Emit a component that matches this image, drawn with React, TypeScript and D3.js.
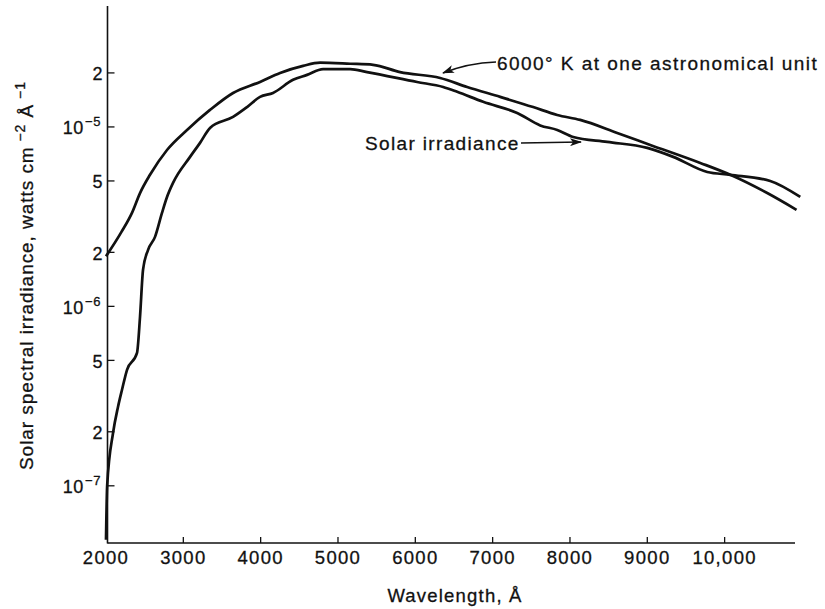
import { useEffect, useRef } from 'react';
import * as d3 from 'd3';

// 6000 K black body at one astronomical unit
const bbWavelength = [2000, 2200, 2336, 2440, 2569, 2789, 3048, 3345, 3643, 3992, 4251, 4549, 4768, 5157, 5454, 5803, 6321, 6670, 7097, 7524, 7835, 8132, 8611, 9038, 9685, 10073, 10551, 10930];
const bbIrradiance = [1.9e-6, 2.6e-6, 3.32e-6, 4.28e-6, 5.41e-6, 7.44e-6, 9.62e-6, 1.244e-5, 1.546e-5, 1.782e-5, 2.0e-5, 2.19e-5, 2.28e-5, 2.25e-5, 2.22e-5, 2.02e-5, 1.874e-5, 1.67e-5, 1.47e-5, 1.29e-5, 1.166e-5, 1.094e-5, 9.26e-6, 7.94e-6, 6.3e-6, 5.41e-6, 4.28e-6, 3.45e-6];

// measured solar irradiance
const solarWavelength = [2000, 2015, 2091, 2155, 2207, 2272, 2401, 2440, 2479, 2543, 2634, 2724, 2789, 2867, 3087, 3216, 3345, 3643, 3824, 3992, 4160, 4419, 4600, 4807, 5157, 5376, 6023, 6360, 6541, 6877, 7317, 7615, 7835, 8042, 8481, 8999, 9335, 9775, 10073, 10590, 10978];
const solarIrradiance = [5e-8, 1e-7, 1.97e-7, 2.75e-7, 3.43e-7, 4.43e-7, 5.51e-7, 8.75e-7, 1.6e-6, 2.06e-6, 2.44e-6, 3.32e-6, 4.07e-6, 4.88e-6, 6.81e-6, 8.15e-6, 9.87e-6, 1.137e-5, 1.29e-5, 1.47e-5, 1.546e-5, 1.83e-5, 1.95e-5, 2.1e-5, 2.1e-5, 2.02e-5, 1.78e-5, 1.67e-5, 1.57e-5, 1.38e-5, 1.196e-5, 1.02e-5, 9.62e-6, 8.79e-6, 8.25e-6, 7.64e-6, 6.81e-6, 5.61e-6, 5.41e-6, 5.0e-6, 4.07e-6];

const xTicks = [2000, 3000, 4000, 5000, 6000, 7000, 8000, 9000, 10000];
const xTickLabels = ['2000', '3000', '4000', '5000', '6000', '7000', '8000', '9000', '10,000'];
const yTicks = [2e-5, 1e-5, 5e-6, 2e-6, 1e-6, 5e-7, 2e-7, 1e-7];
const yTickMant = ['2', '10', '5', '2', '10', '5', '2', '10'];
const yTickExp = ['', '−5', '', '', '−6', '', '', '−7'];

const FONT = '"Liberation Sans", Arial, sans-serif';
const INK = '#111';

const App = () => {
  const svgRef = useRef<SVGSVGElement>(null);

  useEffect(() => {
    const width = 825;
    const height = 609;
    const svg = d3.select(svgRef.current).attr('width', width).attr('height', height);
    svg.selectAll('*').remove();

    const x = d3.scaleLinear().domain([2000, 10910]).range([106, 795]);
    const y = d3.scaleLog().domain([4.8e-8, 4.72e-5]).range([543, 6]);
    const axisX = 107.5;

    const label = (sel: any, size: number, spacing: number) =>
      sel
        .attr('font-family', FONT)
        .attr('font-size', size)
        .attr('letter-spacing', spacing)
        .attr('fill', INK)
        .attr('stroke', INK)
        .attr('stroke-width', 0.3);

    svg
      .append('defs')
      .append('marker')
      .attr('id', 'head')
      .attr('viewBox', '0 0 12 8')
      .attr('refX', 11)
      .attr('refY', 4)
      .attr('markerWidth', 12)
      .attr('markerHeight', 8)
      .attr('markerUnits', 'userSpaceOnUse')
      .attr('orient', 'auto')
      .append('path')
      .attr('d', 'M0,0 L12,4 L0,8 L3,4 Z')
      .attr('fill', INK);

    // axes
    svg.append('line')
      .attr('x1', axisX).attr('x2', axisX)
      .attr('y1', 6).attr('y2', 543.5)
      .attr('stroke', INK).attr('stroke-width', 1.6);
    svg.append('line')
      .attr('x1', axisX).attr('x2', 795)
      .attr('y1', 543).attr('y2', 543)
      .attr('stroke', INK).attr('stroke-width', 1.4);

    const xg = svg.append('g');
    xTicks.forEach((t, i) => {
      if (i > 0) {
        xg.append('line')
          .attr('x1', x(t)).attr('x2', x(t))
          .attr('y1', 543).attr('y2', 537)
          .attr('stroke', INK).attr('stroke-width', 1.3);
      }
      label(xg.append('text'), 18.5, 1.3)
        .attr('x', x(t)).attr('y', 563.5)
        .attr('text-anchor', 'middle')
        .text(xTickLabels[i]);
    });

    const yg = svg.append('g');
    yTicks.forEach((t, i) => {
      yg.append('line')
        .attr('x1', axisX).attr('x2', axisX + 7)
        .attr('y1', y(t)).attr('y2', y(t))
        .attr('stroke', INK).attr('stroke-width', 1.3);
      const txt = label(yg.append('text'), 18, 0.6)
        .attr('x', yTickExp[i] ? 101 : 103)
        .attr('y', y(t) + 7.5)
        .attr('text-anchor', 'end');
      txt.append('tspan').text(yTickMant[i]);
      if (yTickExp[i]) {
        txt.append('tspan').attr('dy', -8).attr('font-size', 13).attr('dx', 1).text(yTickExp[i]);
      }
    });

    // curves
    const line = d3
      .line<[number, number]>()
      .x((d) => x(d[0]))
      .y((d) => y(d[1]))
      .curve(d3.curveMonotoneX);

    const bb = bbWavelength.map((w, i) => [w, bbIrradiance[i]] as [number, number]);
    const solar = solarWavelength.map((w, i) => [w, solarIrradiance[i]] as [number, number]);

    svg.append('path').attr('d', line(bb)).attr('fill', 'none')
      .attr('stroke', INK).attr('stroke-width', 2.7).attr('stroke-linejoin', 'round');
    svg.append('path').attr('d', line(solar)).attr('fill', 'none')
      .attr('stroke', INK).attr('stroke-width', 2.7).attr('stroke-linejoin', 'round');

    // annotations
    label(svg.append('text'), 19, 1.45)
      .attr('x', 497).attr('y', 70)
      .text('6000° K at one astronomical unit');
    svg.append('path')
      .attr('d', 'M496,62 Q468,63 443,73')
      .attr('fill', 'none').attr('stroke', INK).attr('stroke-width', 1.4)
      .attr('marker-end', 'url(#head)');

    label(svg.append('text'), 19, 1.35)
      .attr('x', 365).attr('y', 150)
      .text('Solar irradiance');
    svg.append('path')
      .attr('d', 'M521,143 L581,142')
      .attr('fill', 'none').attr('stroke', INK).attr('stroke-width', 1.4)
      .attr('marker-end', 'url(#head)');

    // axis titles
    const yt = label(svg.append('text'), 19, 0.95)
      .attr('transform', 'translate(33,470) rotate(-90)');
    yt.append('tspan').text('Solar spectral irradiance, watts cm');
    yt.append('tspan').attr('dy', -8).attr('font-size', 14).text(' −2');
    yt.append('tspan').attr('dy', 8).text(' Å');
    yt.append('tspan').attr('dy', -8).attr('font-size', 14).text(' −1');

    label(svg.append('text'), 18.5, 1.2)
      .attr('x', 455).attr('y', 602)
      .attr('text-anchor', 'middle')
      .text('Wavelength, Å');
  }, []);

  return (
    <div>
      <svg ref={svgRef} style={{ position: 'absolute', left: 0, top: 0, background: '#fff' }}></svg>
    </div>
  );
};

export default App;
